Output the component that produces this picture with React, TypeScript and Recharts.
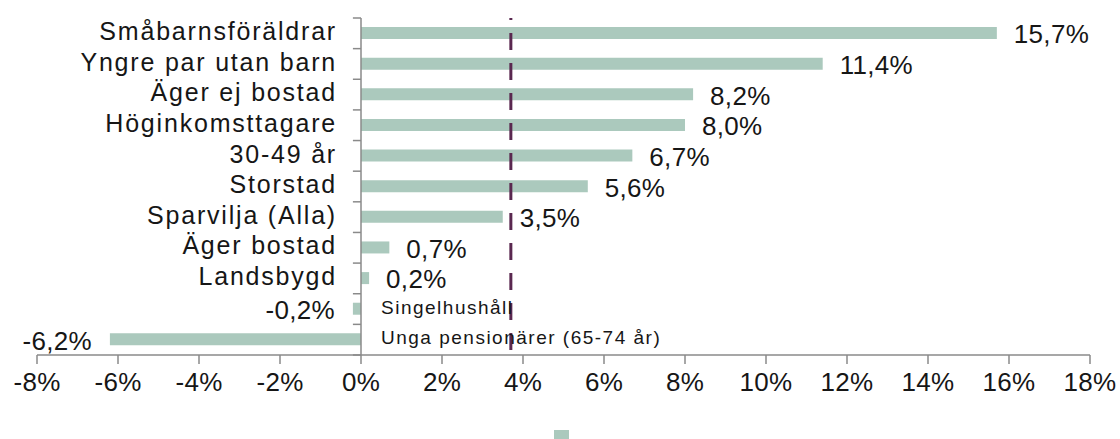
import React from 'react';
import { BarChart, Bar, XAxis, YAxis, ReferenceLine, LabelList, Legend } from 'recharts';

const categories = [
  'Småbarnsföräldrar',
  'Yngre par utan barn',
  'Äger ej bostad',
  'Höginkomsttagare',
  '30-49 år',
  'Storstad',
  'Sparvilja (Alla)',
  'Äger bostad',
  'Landsbygd',
  'Singelhushåll',
  'Unga pensionärer (65-74 år)',
];
const values = [15.7, 11.4, 8.2, 8.0, 6.7, 5.6, 3.5, 0.7, 0.2, -0.2, -6.2];
const xTicks = [-8, -6, -4, -2, 0, 2, 4, 6, 8, 10, 12, 14, 16, 18];
const referenceValue = 3.7;

const data = categories.map((name, i) => ({ name, value: values[i] }));
const bandEdges = categories.map((_, i) => i).concat(categories.length);

const FONT = '"Liberation Sans", Arial, sans-serif';
const TEXT = '#161616';
const AXIS = '#8a8a8a';
const BAR = '#abc9bd';

const fmt = (v: number) => v.toFixed(1).replace('.', ',') + '%';

const box = (p: any) => {
  const vb = p.viewBox || {};
  const x = Number(p.x ?? vb.x);
  const y = Number(p.y ?? vb.y);
  const w = Number(p.width ?? vb.width);
  const h = Number(p.height ?? vb.height);
  return { left: Math.min(x, x + w), right: Math.max(x, x + w), cy: y + h / 2 };
};

const CategoryLabel = (p: any) => {
  const d = data.find((e) => e.name === p.value);
  if (!d) return null;
  const { left, right, cy } = box(p);
  if (d.value >= 0) {
    return (
      <text x={left - 24} y={cy - 2} dy="0.36em" textAnchor="end" fontSize={25} letterSpacing={1.8} fill={TEXT} fontFamily={FONT}>
        {d.name}
      </text>
    );
  }
  return (
    <text x={right + 20} y={cy - 2} dy="0.36em" textAnchor="start" fontSize={19} letterSpacing={1.5} fill={TEXT} fontFamily={FONT}>
      {d.name}
    </text>
  );
};

const ValueLabel = (p: any) => {
  const v = Number(p.value);
  const { left, right, cy } = box(p);
  const pos = v >= 0;
  return (
    <text
      x={pos ? right + 17 : left - 18}
      y={cy + 1}
      dy="0.36em"
      textAnchor={pos ? 'start' : 'end'}
      fontSize={26}
      letterSpacing={0.3}
      fill={TEXT}
      fontFamily={FONT}
    >
      {fmt(v)}
    </text>
  );
};

export default function App() {
  return (
    <div style={{ position: 'absolute', left: 0, top: 0, width: 1120, height: 439, background: '#fff', fontFamily: FONT }}>
      <BarChart
        layout="vertical"
        width={1120}
        height={439}
        data={data}
        margin={{ top: 18, right: 30, bottom: 44, left: 37 }}
      >
        <XAxis
          type="number"
          domain={[-8, 18]}
          ticks={xTicks}
          interval={0}
          tickFormatter={(v: number) => `${v}%`}
          stroke={AXIS}
          strokeWidth={1.5}
          tickSize={9}
          tickMargin={9}
          height={40}
          tick={{ fill: TEXT, fontSize: 26, fontFamily: FONT, letterSpacing: 0.3 }}
          allowDataOverflow
        />
        <YAxis yAxisId="cat" type="category" dataKey="name" hide />
        <YAxis
          yAxisId="grid"
          type="number"
          dataKey="value"
          domain={[0, categories.length]}
          hide
          allowDataOverflow
        />
        <Legend
          layout="horizontal"
          align="center"
          verticalAlign="middle"
          iconType="square"
          iconSize={15}
          formatter={() => ''}
          wrapperStyle={{ top: 428, left: 0, width: 1120, paddingLeft: 17, boxSizing: 'border-box' }}
        />
        <Bar yAxisId="cat" dataKey="value" name="" fill={BAR} barSize={12} isAnimationActive={false}>
          <LabelList dataKey="name" content={CategoryLabel} />
          <LabelList dataKey="value" content={ValueLabel} />
        </Bar>
        <ReferenceLine yAxisId="cat" x={0} stroke={AXIS} strokeWidth={1.5} />
        {bandEdges.map((e) => (
          <ReferenceLine
            key={e}
            yAxisId="grid"
            ifOverflow="visible"
            segment={[
              { x: -0.2, y: e },
              { x: 0, y: e },
            ]}
            stroke={AXIS}
            strokeWidth={1.5}
          />
        ))}
        <ReferenceLine
          yAxisId="cat"
          x={referenceValue}
          stroke="#5a2850"
          strokeWidth={3}
          strokeDasharray="17 13"
          strokeDashoffset={25}
        />
      </BarChart>
    </div>
  );
}
